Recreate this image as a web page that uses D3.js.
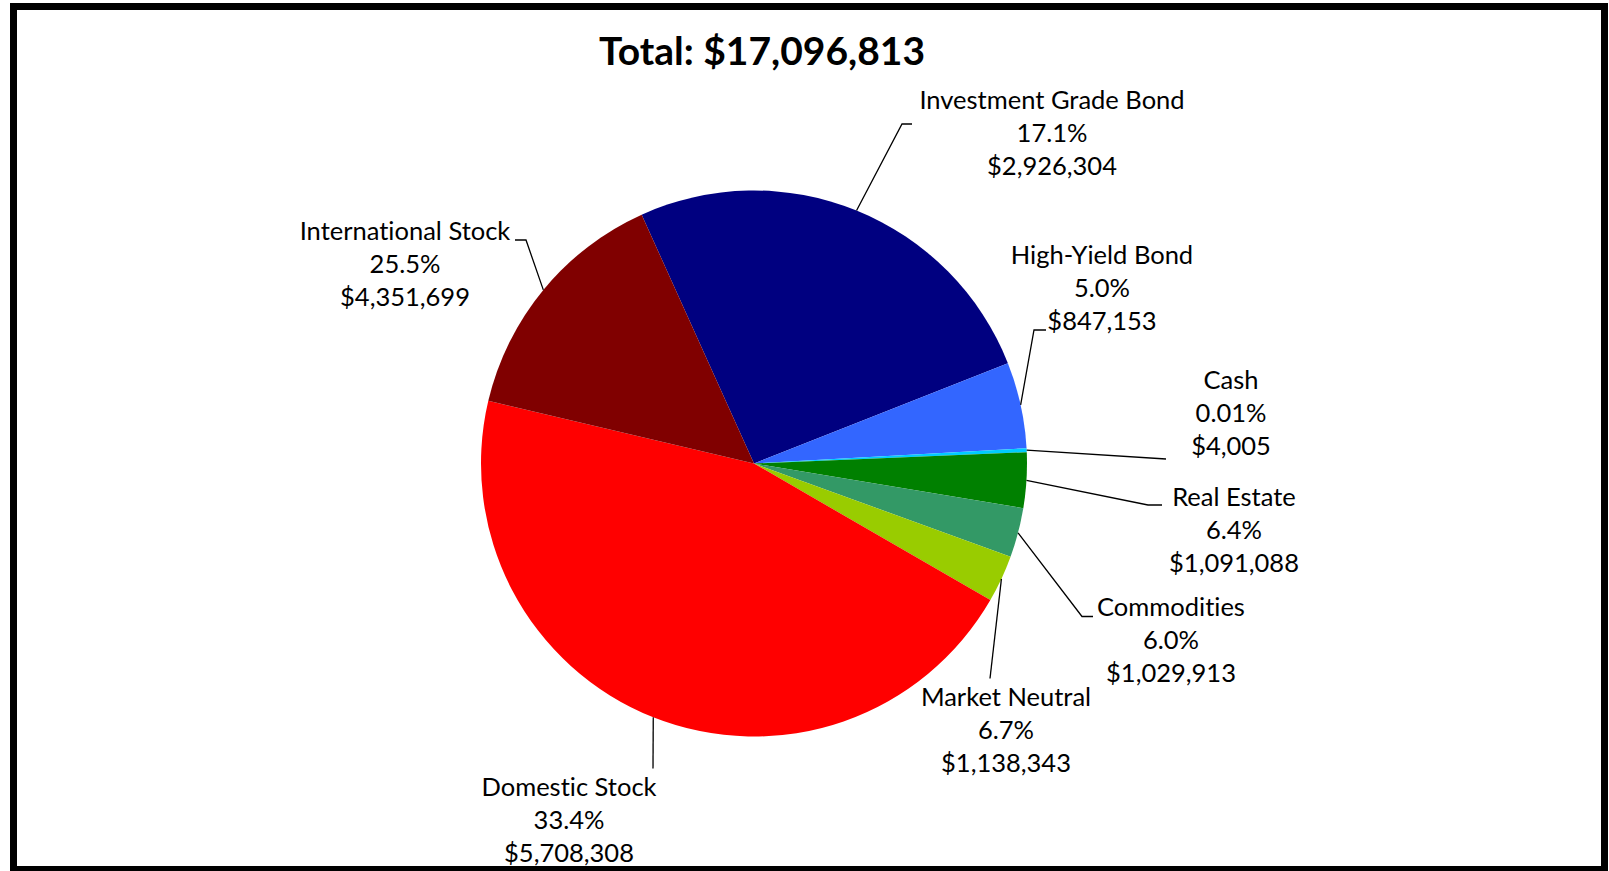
<!DOCTYPE html>
<html>
<head>
<meta charset="utf-8">
<script src="https://cdnjs.cloudflare.com/ajax/libs/d3/7.8.5/d3.min.js"></script>
<style>
body { margin: 0; background: #fff; }
text { font-family: Lato, "Open Sans", sans-serif; fill: #000; font-variant-ligatures: none; }
</style>
</head>
<body>
<svg id="chart"></svg>
<script>
var svgW = 1609
var svgH = 871

// slices in drawing order, clockwise from the top
var categories = ["Investment Grade Bond", "High-Yield Bond", "Cash", "Real Estate",
                  "Commodities", "Market Neutral", "Domestic Stock", "International Stock"]
// slice sizes as drawn in the picture (percent of the circle)
var sliceShares = [25.76, 5.10, 0.23, 3.28, 2.93, 2.79, 45.35, 14.56]
// percentages and dollar amounts printed on the labels
var pctLabels = ["17.1%", "5.0%", "0.01%", "6.4%", "6.0%", "6.7%", "33.4%", "25.5%"]
var dollarValues = [2926304, 847153, 4005, 1091088, 1029913, 1138343, 5708308, 4351699]
var colors = ["#000080", "#3366FF", "#00CCFF", "#008000",
              "#339966", "#99CC00", "#FF0000", "#800000"]

// label placement relative to the pie centre (text centre, first baseline)
var labelPos = [[298, -355], [348, -199.5], [477, -75], [480, 42], [417, 152.5],
                [252, 242.5], [-185, 332.5], [-349, -224]]
// leader line bend points relative to the pie centre
var leaderPts = [
    [[148, -339.5], [158, -339.5]],
    [[280, -133.5], [292, -133.5]],
    [[412, -4.5]],
    [[394, 41.5], [408, 41.5]],
    [[328, 153], [339, 153]],
    [[236, 215]],
    [[-101, 305]],
    [[-228, -223.5], [-239, -223.5]]
]

var cx = 754, cy = 463.5, radius = 273
var startDeg = -24.3
var lineGap = 33

var svg = d3.select("#chart")
    .attr("width", svgW)
    .attr("height", svgH)

// black frame
svg.append("rect")
    .attr("x", 13.5)
    .attr("y", 6.5)
    .attr("width", 1591)
    .attr("height", 863)
    .attr("fill", "none")
    .attr("stroke", "#000")
    .attr("stroke-width", 7)

var fmt = d3.format(",")
svg.append("text")
    .text("Total: $" + fmt(d3.sum(dollarValues)))
    .attr("x", 762)
    .attr("y", 65)
    .attr("text-anchor", "middle")
    .style("font-weight", "bold")
    .style("font-size", "39px")

var rows = categories.map(function(c, i) {
    return {name: c, share: sliceShares[i], pct: pctLabels[i], value: dollarValues[i], color: colors[i], i: i}
})

var start = startDeg * Math.PI / 180
var pie = d3.pie()
    .sort(null)
    .value(function(d) { return d.share })
    .startAngle(start)
    .endAngle(start + 2 * Math.PI)

var arc = d3.arc().innerRadius(0).outerRadius(radius)
var rimArc = d3.arc().innerRadius(radius).outerRadius(radius)

var g = svg.append("g")
    .attr("transform", "translate(" + cx + "," + cy + ")")

var arcs = pie(rows)

g.selectAll("path.slice")
    .data(arcs)
    .enter()
    .append("path")
    .attr("class", "slice")
    .attr("d", arc)
    .attr("fill", function(d) { return d.data.color })

// leader lines from slice middle at the rim
g.selectAll("path.leader")
    .data(arcs)
    .enter()
    .append("path")
    .attr("class", "leader")
    .attr("d", function(d) {
        var p = [rimArc.centroid(d)].concat(leaderPts[d.data.i])
        return d3.line()(p)
    })
    .attr("fill", "none")
    .attr("stroke", "#000")
    .attr("stroke-width", 1.3)

var labels = g.selectAll("text.lbl")
    .data(arcs)
    .enter()
    .append("text")
    .attr("class", "lbl")
    .attr("text-anchor", "middle")
    .style("font-size", "25.5px")
    .attr("transform", function(d) {
        var p = labelPos[d.data.i]
        return "translate(" + p[0] + "," + p[1] + ")"
    })

labels.selectAll("tspan")
    .data(function(d) { return [d.data.name, d.data.pct, "$" + fmt(d.data.value)] })
    .enter()
    .append("tspan")
    .attr("x", 0)
    .attr("y", function(d, i) { return i * lineGap })
    .text(function(d) { return d })
</script>
</body>
</html>
